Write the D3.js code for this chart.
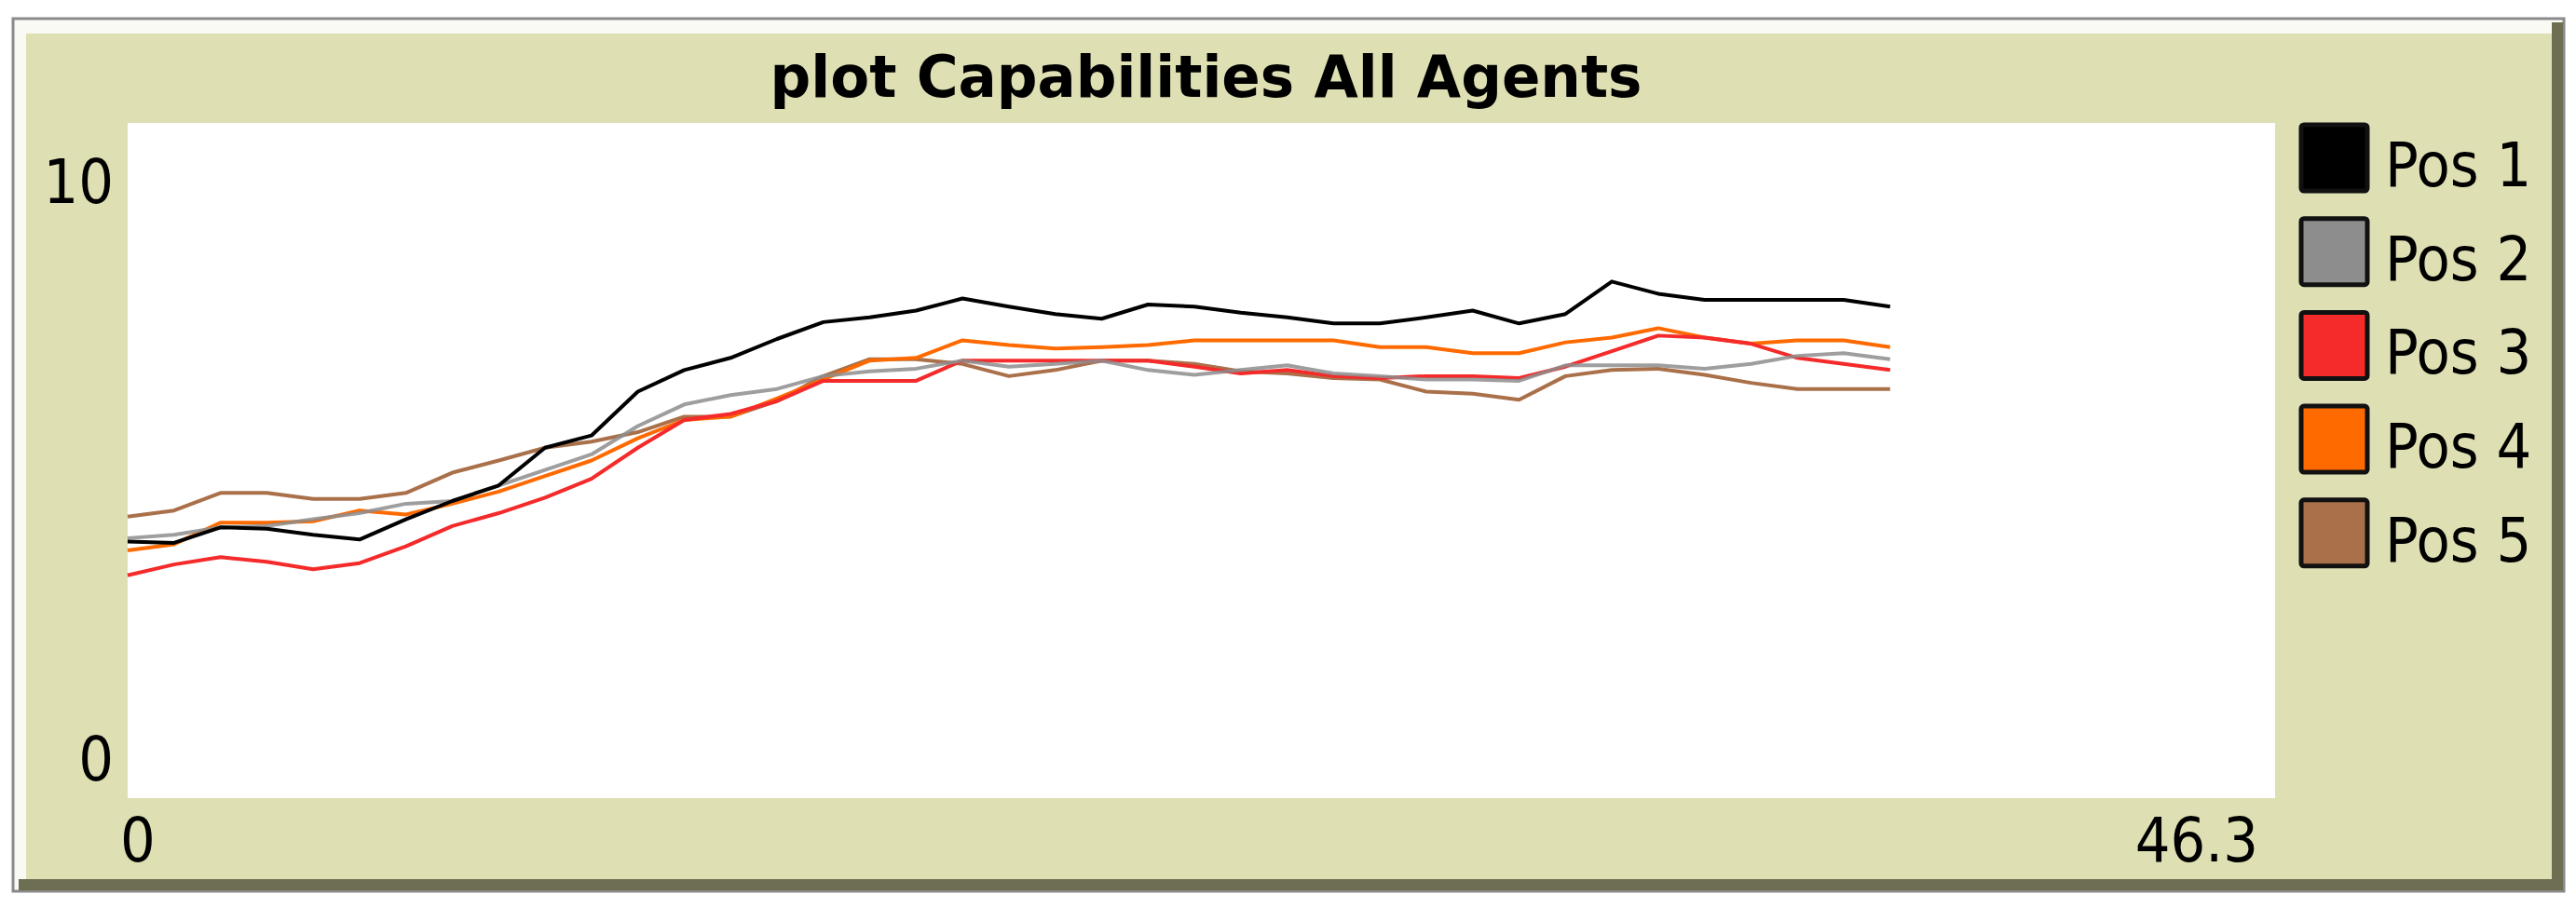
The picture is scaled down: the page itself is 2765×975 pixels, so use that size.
<!DOCTYPE html>
<html>
<head>
<meta charset="utf-8">
<script src="https://cdn.jsdelivr.net/npm/d3@7"></script>
<style>
  body { margin: 0; background: #fff; }
  text { font-family: "DejaVu Sans Condensed", "DejaVu Sans", sans-serif; fill: #000; }
</style>
</head>
<body>
<svg id="chart" width="2765" height="975"></svg>
<script>
// data, one value per tick 0..38
var seriesNames = ["Pos 1", "Pos 2", "Pos 3", "Pos 4", "Pos 5"];
var seriesColors = ["#000000", "#8d8d8d", "#f52a2a", "#ff6a00", "#a9704a"];
var pos1 = [3.80,3.78,4.01,3.99,3.90,3.83,4.13,4.40,4.63,5.19,5.37,6.02,6.34,6.52,6.80,7.05,7.12,7.22,7.40,7.28,7.17,
            7.10,7.31,7.28,7.19,7.12,7.03,7.03,7.12,7.22,7.03,7.17,7.65,7.47,7.38,7.38,7.38,7.38,7.28];
var pos2 = [3.85,3.90,4.01,4.03,4.13,4.22,4.36,4.40,4.63,4.86,5.09,5.51,5.83,5.97,6.06,6.25,6.32,6.36,6.48,6.39,6.43,
            6.48,6.34,6.27,6.34,6.41,6.29,6.25,6.20,6.20,6.18,6.41,6.41,6.41,6.36,6.43,6.55,6.59,6.50];
var pos3 = [3.30,3.46,3.57,3.50,3.39,3.48,3.73,4.03,4.22,4.45,4.73,5.19,5.60,5.69,5.88,6.18,6.18,6.18,6.48,6.48,6.48,
            6.48,6.48,6.39,6.29,6.34,6.25,6.22,6.25,6.25,6.22,6.39,6.62,6.85,6.82,6.73,6.52,6.43,6.34];
var pos4 = [3.67,3.76,4.08,4.08,4.10,4.26,4.20,4.36,4.54,4.77,5.00,5.33,5.60,5.65,5.92,6.20,6.48,6.52,6.78,6.71,6.66,
            6.68,6.71,6.78,6.78,6.78,6.78,6.68,6.68,6.59,6.59,6.75,6.82,6.96,6.82,6.73,6.78,6.78,6.68];
var pos5 = [4.17,4.26,4.52,4.52,4.43,4.43,4.52,4.82,5.00,5.19,5.28,5.42,5.65,5.65,5.88,6.25,6.50,6.50,6.43,6.25,6.34,
            6.48,6.48,6.43,6.32,6.29,6.22,6.20,6.02,5.99,5.90,6.25,6.34,6.36,6.27,6.15,6.06,6.06,6.06];
var allSeries = [pos1, pos2, pos3, pos4, pos5];
var xDomain = [0, 46.3];
var yDomain = [0, 10];
var xTickLabels = ["0", "46.3"];
var yTickLabels = ["0", "10"];
var title = "plot Capabilities All Agents";

var svg = d3.select("#chart");

// widget frame
svg.append("rect").attr("x", 14).attr("y", 20).attr("width", 2738).attr("height", 937)
  .attr("fill", "#fafaf5").attr("stroke", "#8a8a8a").attr("stroke-width", 3);
svg.append("rect").attr("x", 28).attr("y", 36).attr("width", 2712).attr("height", 912)
  .attr("fill", "#dfdfb4");
svg.append("path").attr("d", "M20,950 L2745,950 L2745,24")
  .attr("fill", "none").attr("stroke", "#6e6e52").attr("stroke-width", 12);

// plot area
var plotLeft = 137, plotRight = 2442, plotTop = 132, plotBottom = 857;
svg.append("rect").attr("x", plotLeft).attr("y", plotTop)
  .attr("width", plotRight - plotLeft).attr("height", plotBottom - plotTop)
  .attr("fill", "#ffffff");

var x = d3.scaleLinear().domain(xDomain).range([plotLeft, plotRight]);
var y = d3.scaleLinear().domain(yDomain).range([plotBottom, plotTop]);

svg.append("text").attr("x", (plotLeft + plotRight) / 2 + 5).attr("y", 104)
  .attr("text-anchor", "middle").attr("font-weight", "bold").attr("font-size", 62)
  .attr("textLength", 936).attr("lengthAdjust", "spacingAndGlyphs")
  .text(title);

// axis labels (corners only, like NetLogo)
svg.append("text").attr("x", 122).attr("y", 218).attr("text-anchor", "end").attr("font-size", 66).text(yTickLabels[1]);
svg.append("text").attr("x", 122).attr("y", 838).attr("text-anchor", "end").attr("font-size", 66).text(yTickLabels[0]);
svg.append("text").attr("x", x(xDomain[0]) - 8).attr("y", 925).attr("font-size", 66).text(xTickLabels[0]);
svg.append("text").attr("x", x(xDomain[1]) - 18).attr("y", 925).attr("text-anchor", "end").attr("font-size", 66).text(xTickLabels[1]);

var line = d3.line()
  .x(function(d, i) { return x(i); })
  .y(function(d) { return y(d); });

// draw later series first so Pos 1 ends up on top
for (let s = allSeries.length - 1; s >= 0; s--) {
  svg.append("path").datum(allSeries[s])
    .attr("fill", "none")
    .attr("stroke", seriesColors[s])
    .attr("stroke-width", 4)
    .attr("stroke-linejoin", "round")
    .attr("opacity", s == 1 ? 0.85 : 1)
    .attr("d", line);
}

// legend
var legend = svg.append("g").selectAll("g")
  .data(seriesNames).enter()
  .append("g")
  .attr("transform", function(d, i) { return "translate(2468," + (132 + i * 100.7) + ")"; });
legend.append("rect").attr("x", 2).attr("y", 2).attr("width", 71).attr("height", 71).attr("rx", 3)
  .attr("fill", function(d, i) { return seriesColors[i]; })
  .attr("stroke", "#111").attr("stroke-width", 5);
legend.append("text").attr("x", 92).attr("y", 68).attr("font-size", 66)
  .text(function(d) { return d; });
</script>
</body>
</html>
